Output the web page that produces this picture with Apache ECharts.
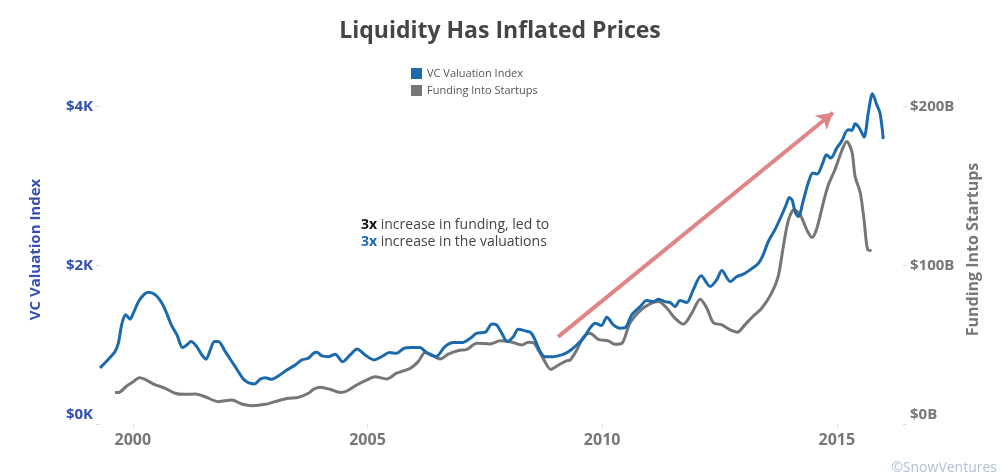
<!DOCTYPE html>
<html>
<head>
<meta charset="utf-8">
<script src="https://cdn.jsdelivr.net/npm/echarts@6/dist/echarts.min.js"></script>
<style>
  html, body { margin: 0; padding: 0; background: #fff; }
  #chart { width: 1000px; height: 476px; }
</style>
</head>
<body>
<div id="chart"></div>
<script>
var chart = echarts.init(document.getElementById("chart"));

// VC valuation index ($)
var valuationYears = [1999.30, 1999.48, 1999.62, 1999.69, 1999.77, 1999.85, 1999.94, 2000.01, 2000.12, 2000.23,
  2000.33, 2000.48, 2000.62, 2000.72, 2000.82, 2000.94, 2001.06, 2001.15, 2001.24, 2001.36,
  2001.47, 2001.56, 2001.65, 2001.74, 2001.82, 2001.97, 2002.18, 2002.36, 2002.46, 2002.59,
  2002.71, 2002.82, 2002.95, 2003.10, 2003.28, 2003.46, 2003.60, 2003.74, 2003.85, 2003.92,
  2004.03, 2004.17, 2004.31, 2004.47, 2004.63, 2004.78, 2004.95, 2005.14, 2005.30, 2005.47,
  2005.62, 2005.78, 2005.94, 2006.11, 2006.26, 2006.46, 2006.65, 2006.83, 2007.01, 2007.19,
  2007.33, 2007.51, 2007.65, 2007.75, 2007.86, 2007.98, 2008.11, 2008.21, 2008.36, 2008.48,
  2008.57, 2008.68, 2008.78, 2008.96, 2009.14, 2009.28, 2009.42, 2009.60, 2009.74, 2009.85,
  2009.98, 2010.10, 2010.24, 2010.38, 2010.49, 2010.63, 2010.81, 2010.95, 2011.09, 2011.20,
  2011.34, 2011.45, 2011.55, 2011.66, 2011.80, 2011.94, 2012.11, 2012.30, 2012.44, 2012.55,
  2012.73, 2012.87, 2013.01, 2013.15, 2013.33, 2013.43, 2013.54, 2013.68, 2013.83, 2013.92,
  2013.99, 2014.05, 2014.11, 2014.18, 2014.29, 2014.39, 2014.49, 2014.58, 2014.70, 2014.78,
  2014.87, 2015.00, 2015.10, 2015.24, 2015.32, 2015.39, 2015.48, 2015.58, 2015.67, 2015.76,
  2015.85, 2015.92, 2015.99];
var valuationValues = [707, 817, 912, 1018, 1271, 1376, 1321, 1397, 1543, 1628,
  1662, 1628, 1523, 1397, 1249, 1123, 963, 997, 1039, 976,
  871, 817, 934, 1039, 1039, 912, 723, 564, 521, 505,
  564, 584, 564, 606, 681, 745, 808, 829, 892, 905,
  858, 849, 880, 786, 871, 947, 871, 808, 849, 900,
  892, 955, 963, 963, 900, 849, 976, 1026, 1026, 1082,
  1145, 1157, 1262, 1249, 1145, 1039, 1102, 1195, 1174, 1152,
  1060, 912, 849, 849, 871, 912, 976, 1082, 1208, 1271,
  1241, 1347, 1249, 1208, 1215, 1376, 1480, 1556, 1543, 1574,
  1543, 1531, 1480, 1556, 1531, 1691, 1868, 1733, 1817, 1935,
  1796, 1859, 1889, 1943, 2028, 2133, 2301, 2448, 2638, 2764,
  2856, 2818, 2679, 2616, 2827, 3038, 3164, 3151, 3290, 3395,
  3353, 3479, 3563, 3710, 3701, 3786, 3732, 3618, 3921, 4165,
  4026, 3921, 3593];

// Funding into startups ($B)
var fundingYears = [1999.62, 1999.69, 1999.87, 2000.01, 2000.14, 2000.26, 2000.44, 2000.69, 2000.90, 2001.08,
  2001.33, 2001.54, 2001.82, 2002.11, 2002.32, 2002.54, 2002.82, 2003.10, 2003.31, 2003.53,
  2003.74, 2003.85, 2003.99, 2004.20, 2004.42, 2004.56, 2004.77, 2004.99, 2005.16, 2005.41,
  2005.62, 2005.91, 2006.08, 2006.23, 2006.37, 2006.55, 2006.72, 2006.94, 2007.12, 2007.33,
  2007.61, 2007.83, 2008.04, 2008.29, 2008.43, 2008.53, 2008.64, 2008.78, 2008.90, 2009.07,
  2009.25, 2009.32, 2009.46, 2009.60, 2009.74, 2009.92, 2010.13, 2010.27, 2010.42, 2010.59,
  2010.81, 2011.02, 2011.20, 2011.38, 2011.55, 2011.73, 2011.91, 2012.09, 2012.23, 2012.37,
  2012.55, 2012.73, 2012.88, 2013.04, 2013.22, 2013.40, 2013.61, 2013.75, 2013.86, 2013.97,
  2014.09, 2014.22, 2014.36, 2014.47, 2014.57, 2014.71, 2014.82, 2014.96, 2015.10, 2015.21,
  2015.32, 2015.39, 2015.50, 2015.58, 2015.66, 2015.74];
var fundingValues = [19.8, 19.8, 24.0, 26.7, 29.2, 28.2, 25.2, 22.5, 19.4, 18.7,
  18.9, 17.2, 14.1, 15.1, 12.6, 11.5, 12.4, 14.7, 16.2, 16.8,
  19.4, 21.9, 23.2, 21.9, 19.8, 20.8, 24.6, 27.8, 29.8, 28.4,
  32.0, 35.1, 39.3, 45.0, 43.5, 41.0, 44.0, 46.3, 47.1, 50.9,
  50.5, 52.4, 51.9, 49.8, 51.6, 51.3, 46.7, 39.3, 34.5, 37.2,
  39.9, 40.4, 46.7, 54.7, 57.2, 53.4, 52.4, 50.3, 50.9, 63.5,
  71.5, 75.7, 77.2, 73.0, 66.7, 62.9, 69.9, 78.7, 73.0, 63.9,
  62.5, 59.3, 57.9, 62.5, 68.1, 73.0, 82.5, 92.9, 111.9, 128.7,
  135.0, 131.9, 122.4, 117.6, 122.9, 139.3, 150.8, 160.3, 171.8, 178.1,
  171.8, 156.0, 145.6, 128.7, 109.8, 109.4];

var yearTicks = [2000, 2005, 2010, 2015];
var leftTicks = [0, 2000, 4000];
var rightTicks = [0, 100, 200];

// trend arrow, in data units (year, valuation)
var arrowStart = [2009.06, 1098];
var arrowEnd = [2014.92, 3925];

var valuationData = valuationYears.map(function (y, i) { return [y, valuationValues[i]]; });
var fundingData = fundingYears.map(function (y, i) { return [y, fundingValues[i]]; });

var FONT = "'Open Sans', sans-serif";
var BLUE = "#1b6aad";
var GRAY = "#767676";

// the zero labels sit a little above their tick in the original
function zeroLift(text, isZero) {
    return isZero ? "{z|" + text + "}" : text;
}

var option = {
    animation: false,
    title: {
        text: "Liquidity Has Inflated Prices",
        left: "center",
        top: 15,
        textStyle: { fontFamily: FONT, fontSize: 23, fontWeight: 700, color: "#454545" }
    },
    legend: {
        orient: "vertical",
        left: 406,
        top: 63,
        icon: "rect",
        itemWidth: 11,
        itemHeight: 11,
        itemGap: 6,
        textStyle: { fontFamily: FONT, fontSize: 11, color: "#555" },
        data: ["VC Valuation Index", "Funding Into Startups"]
    },
    grid: { left: 100, right: 97, top: 75, bottom: 52 },
    xAxis: {
        type: "value",
        min: 1999.3,
        max: 2016.41,
        axisLine: { show: false },
        splitLine: { show: false },
        axisTick: { show: true, length: 4, lineStyle: { color: "#ddd" }, customValues: yearTicks },
        axisLabel: {
            customValues: yearTicks,
            margin: 8,
            fontFamily: FONT, fontSize: 16, fontWeight: 700, color: "#777",
            formatter: function (v) { return String(v); }
        }
    },
    yAxis: [
        {
            type: "value",
            min: 0,
            max: 4400,
            name: "VC Valuation Index",
            nameLocation: "middle",
            nameGap: 57,
            nameTextStyle: { fontFamily: FONT, fontSize: 15, fontWeight: 700, color: "#3550b5" },
            axisLine: { show: false },
            splitLine: { show: false },
            axisTick: { show: true, length: 4, lineStyle: { color: "#ddd" }, customValues: leftTicks },
            axisLabel: {
                customValues: leftTicks,
                margin: 7,
                fontFamily: FONT, fontSize: 15, fontWeight: 700, color: "#3550b5",
                formatter: function (v) { return zeroLift("$" + (v / 1000) + "K", v === 0); },
                rich: { z: { fontFamily: FONT, fontSize: 15, fontWeight: 700, color: "#3550b5", padding: [0, 0, 18, 0] } }
            }
        },
        {
            type: "value",
            min: 0,
            max: 220,
            position: "right",
            name: "Funding Into Startups",
            nameLocation: "middle",
            nameGap: 62,
            nameTextStyle: { fontFamily: FONT, fontSize: 16, fontWeight: 700, color: "#777" },
            axisLine: { show: false },
            splitLine: { show: false },
            axisTick: { show: true, length: 4, lineStyle: { color: "#ddd" }, customValues: rightTicks },
            axisLabel: {
                customValues: rightTicks,
                margin: 7,
                fontFamily: FONT, fontSize: 15, fontWeight: 700, color: "#777",
                formatter: function (v) { return zeroLift("$" + v + "B", v === 0); },
                rich: { z: { fontFamily: FONT, fontSize: 15, fontWeight: 700, color: "#777", padding: [0, 0, 18, 0] } }
            }
        }
    ],
    graphic: [
        {
            type: "text",
            left: 361,
            top: 217,
            style: {
                text: "{b|3x} increase in funding, led to\n{c|3x} increase in the valuations",
                font: "14px 'Open Sans', sans-serif",
                fill: "#444",
                lineHeight: 17,
                rich: {
                    b: { fontFamily: FONT, fontSize: 14, fontWeight: 700, fill: "#111", lineHeight: 17 },
                    c: { fontFamily: FONT, fontSize: 14, fontWeight: 700, fill: BLUE, lineHeight: 17 }
                }
            }
        },
        {
            type: "text",
            right: 3,
            bottom: 1,
            style: {
                text: "©SnowVentures",
                font: "14px 'Open Sans', sans-serif",
                fill: "#b0c0d8"
            }
        }
    ],
    series: [
        {
            name: "Funding Into Startups",
            type: "line",
            yAxisIndex: 1,
            data: fundingData,
            showSymbol: false,
            smooth: 0.3,
            itemStyle: { color: GRAY },
            lineStyle: { color: GRAY, width: 3 }
        },
        {
            name: "VC Valuation Index",
            type: "line",
            yAxisIndex: 0,
            data: valuationData,
            showSymbol: false,
            smooth: 0.3,
            itemStyle: { color: BLUE },
            lineStyle: { color: BLUE, width: 3 },
            markLine: {
                silent: true,
                symbol: ["none", "arrow"],
                symbolSize: [14, 16],
                label: { show: false },
                lineStyle: { color: "#e08585", width: 4, type: "solid" },
                data: [[{ coord: arrowStart }, { coord: arrowEnd }]]
            }
        }
    ]
};

chart.setOption(option);
</script>
</body>
</html>
